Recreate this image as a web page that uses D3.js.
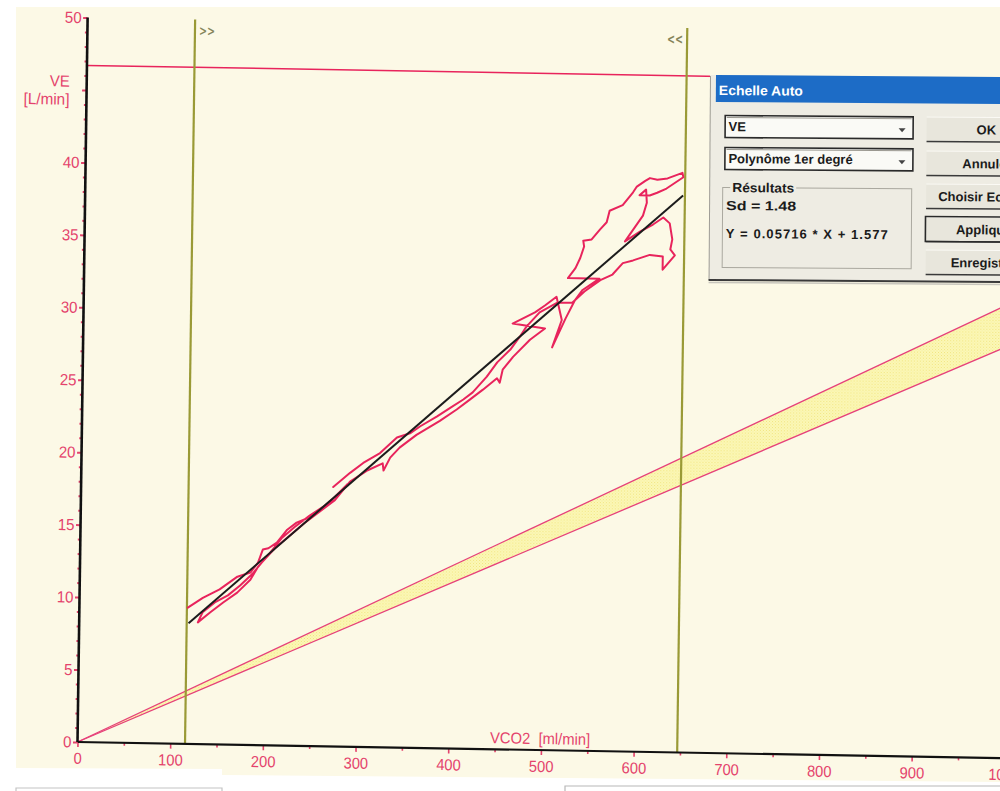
<!DOCTYPE html>
<html>
<head>
<meta charset="utf-8">
<script src="https://cdn.jsdelivr.net/npm/d3@7"></script>
<style>
  html, body { margin: 0; padding: 0; background: #ffffff; }
  svg { display: block; }
</style>
</head>
<body>
<svg id="chart" width="1000" height="791"></svg>
<script>
// ---------------------------------------------------------------
// VE / VCO2 slope: ventilation against CO2 output during exercise
// ---------------------------------------------------------------

// Axis ticks
const xTickValues = d3.range(0, 1001, 50);            // minor every 50, labelled every 100
const xTickLabels = [0, 100, 200, 300, 400, 500, 600, 700, 800, 900, 1000];
const yTickValues = d3.range(0, 51, 1);               // minor every 1, major every 5
const yTickLabels = [0, 5, 10, 15, 20, 25, 30, 35, 40, 50];   // 45 is where the axis title sits

// Analysis cursors (VCO2, ml/min) and the VE ceiling line (L/min)
const cursorVCO2 = [116, 647];
const cursorMarks = [">>", "<<"];
const veCeiling = [46.7];

// Normal VE/VCO2 band: lower and upper slopes through the origin
const bandSlopes = [0.0285, 0.0314];
const bandExtent = [0, 1010];

// Linear fit shown in the dialog
const fitSlope = 0.05716;
const fitIntercept = 1.577;
const fitSd = 1.48;
const fitExtent = [118, 645];

// Breath-by-breath trace (VCO2 ml/min, VE L/min)
const traceVCO2 = [
  117, 133, 151, 170, 184, 192, 197, 203, 212, 223, 233, 244, 258, 272, 287,
  279, 263, 247, 231, 217, 205, 192, 184, 170, 155, 141, 128,
  133, 146, 160, 173, 186, 196, 210, 226, 242, 258, 274, 290, 309, 325, 326, 333, 343,
  361, 386, 404, 418, 432, 447, 450, 453, 464, 482,
  498, 463, 487, 498, 510, 516, 506, 520, 530, 538, 556, 522, 530, 535, 539, 538,
  547, 556, 563, 566, 580, 591, 595, 604, 609, 617, 628, 644, 645, 627, 617, 609, 598, 605, 606, 602, 583, 599,
  613, 624, 631, 634, 632, 637, 624, 624, 610, 592, 581, 570, 557, 540, 527, 511, 492,
  478, 471, 461, 447, 436, 421, 411, 397, 383, 365, 354, 340, 322, 304, 290, 272
];
const traceVE = [
  9.4, 10.1, 10.7, 11.6, 11.9, 12.6, 13.5, 13.6, 14.0, 14.9, 15.4, 15.7, 16.3, 17.1, 18.1,
  17.5, 16.6, 15.9, 15.1, 14.3, 13.3, 12.3, 11.4, 10.5, 9.8, 9.1, 8.4,
  9.1, 9.8, 10.3, 11.0, 11.8, 12.6, 13.6, 14.5, 15.4, 16.2, 17.0, 18.3, 19.1, 19.6, 19.1, 20.0, 20.7,
  21.6, 22.6, 23.4, 24.1, 24.8, 25.6, 25.3, 26.2, 27.1, 28.3,
  29.1, 29.4, 30.2, 30.7, 31.3, 29.7, 27.8, 29.8, 31.1, 31.8, 32.6, 32.6, 33.3, 34.0, 34.8, 35.2,
  35.3, 36.0, 36.5, 37.3, 37.7, 38.6, 39.0, 39.4, 39.6, 39.5, 39.6, 40.0, 39.7, 38.9, 38.6, 38.4, 38.4, 38.8, 37.9, 37.0, 35.2, 35.9,
  36.4, 36.9, 36.5, 35.4, 34.7, 34.3, 33.3, 34.2, 34.3, 33.9, 33.7, 32.9, 32.5, 31.7, 30.9, 30.9, 30.2,
  29.2, 28.5, 27.6, 26.7, 25.7, 24.6, 24.1, 23.5, 22.9, 22.2, 21.7, 21.4, 20.3, 19.6, 18.9, 17.9
];

// Dialog content
const dialogTitle = "Echelle Auto";
const dialogCombos = ["VE", "Polynôme 1er degré"];
const dialogButtons = ["OK", "Annuler", "Choisir Echelle", "Appliquer", "Enregistrer"];

// ---------------------------------------------------------------
const RED = "#e8245c";
const LABEL_RED = "#e4436c";
const OLIVE = "#9a9a36";
const PAPER = "#fcf9e6";

const svg = d3.select("#chart");

// paper sheet
svg.append("rect").attr("width", 1000).attr("height", 791).attr("fill", "#ffffff");
svg.append("polygon")
  .attr("points", "16,7 1000,7 1000,782 565,778 222,775 222,769 16,768")
  .attr("fill", PAPER);
svg.append("path").attr("d", "M16,791 V788 H222 V791")
  .attr("fill", "none").attr("stroke", "#c4c4c4").attr("stroke-width", 1.2);
svg.append("path").attr("d", "M565,791 V786 H1000")
  .attr("fill", "none").attr("stroke", "#b8b8b8").attr("stroke-width", 1.2);

// defs: dotted yellow fill for the normal band
const defs = svg.append("defs");
const pat = defs.append("pattern").attr("id", "bandFill")
  .attr("patternUnits", "userSpaceOnUse").attr("width", 3).attr("height", 3);
pat.append("rect").attr("width", 3).attr("height", 3).attr("fill", "#fcf8b8");
pat.append("rect").attr("width", 1).attr("height", 1).attr("fill", "#f0e47e");
pat.append("rect").attr("x", 1.5).attr("y", 1.5).attr("width", 1).attr("height", 1).attr("fill", "#f3ea92");

// plotting frame (slightly tilted, origin at the axes' corner)
const tiltX = 1.0 * Math.PI / 180;
const tiltY = 0.8 * Math.PI / 180;
const plot = svg.append("g")
  .attr("transform", `matrix(${Math.cos(tiltX)},${Math.sin(tiltX)},${-Math.sin(tiltY)},${Math.cos(tiltY)},77.5,742)`);

const x = d3.scaleLinear().domain([0, 1000]).range([0, 927]);
const y = d3.scaleLinear().domain([0, 50]).range([0, -724.5]);

// normal band
const bandArea = d3.area()
  .x(d => x(d))
  .y0(d => y(bandSlopes[0] * d))
  .y1(d => y(bandSlopes[1] * d));
plot.append("path").datum(bandExtent)
  .attr("d", bandArea).attr("fill", "url(#bandFill)");
bandSlopes.forEach(s => {
  plot.append("path").datum(bandExtent)
    .attr("d", d3.line().x(d => x(d)).y(d => y(s * d)))
    .attr("fill", "none").attr("stroke", "#e6407a").attr("stroke-width", 1.3);
});

// VE ceiling line
plot.selectAll(".ceiling").data(veCeiling).join("line")
  .attr("class", "ceiling")
  .attr("x1", x(0)).attr("x2", x(1010))
  .attr("y1", d => y(d)).attr("y2", d => y(d))
  .attr("stroke", RED).attr("stroke-width", 1.5);

// cursors
plot.selectAll(".cursor").data(cursorVCO2).join("line")
  .attr("class", "cursor")
  .attr("x1", d => x(d)).attr("x2", d => x(d))
  .attr("y1", y(0)).attr("y2", y(50))
  .attr("stroke", OLIVE).attr("stroke-width", 2.2);
plot.selectAll(".cursorMark").data(cursorVCO2).join("text")
  .attr("class", "cursorMark")
  .attr("x", (d, i) => i === 0 ? x(d) + 4 : x(d) - 4)
  .attr("y", y(50) + 16)
  .attr("text-anchor", (d, i) => i === 0 ? "start" : "end")
  .attr("font-family", "DejaVu Sans, sans-serif")
  .attr("font-size", 14).attr("font-weight", "bold").attr("fill", "#85855a")
  .attr("textLength", 16).attr("lengthAdjust", "spacingAndGlyphs")
  .text((d, i) => cursorMarks[i]);

// trace
const trace = traceVCO2.map((v, i) => [v, traceVE[i]]);
plot.append("path").datum(trace)
  .attr("d", d3.line().x(d => x(d[0])).y(d => y(d[1])))
  .attr("fill", "none").attr("stroke", RED).attr("stroke-width", 2)
  .attr("stroke-linejoin", "round").attr("stroke-linecap", "round");

// fitted line
plot.append("path").datum(fitExtent)
  .attr("d", d3.line().x(d => x(d)).y(d => y(fitSlope * d + fitIntercept)))
  .attr("fill", "none").attr("stroke", "#1c1c1c").attr("stroke-width", 2);

// x axis
const xAxis = plot.append("g").call(
  d3.axisBottom(x).tickValues(xTickValues)
    .tickFormat(d => xTickLabels.includes(d) ? d : "")
    .tickSizeOuter(0));
xAxis.select(".domain").remove();
xAxis.selectAll(".tick line")
  .attr("y2", d => d % 100 === 0 ? 5 : 3)
  .attr("stroke", LABEL_RED).attr("stroke-width", 1.6);
xAxis.selectAll(".tick text")
  .attr("y", 10.5)
  .attr("fill", LABEL_RED)
  .attr("font-family", "Liberation Sans, Arial, sans-serif")
  .attr("font-size", 16)
  .attr("textLength", d => String(d).length * 8.2)
  .attr("lengthAdjust", "spacingAndGlyphs");
plot.append("line")
  .attr("x1", x(0)).attr("x2", x(1010)).attr("y1", 0).attr("y2", 0)
  .attr("stroke", "#111").attr("stroke-width", 2.2);

// y axis
const yAxis = plot.append("g").call(
  d3.axisLeft(y).tickValues(yTickValues)
    .tickFormat(d => yTickLabels.includes(d) ? d : "")
    .tickSizeOuter(0));
yAxis.select(".domain").remove();
yAxis.selectAll(".tick line")
  .attr("x2", d => d % 5 === 0 ? -4.5 : -2.5)
  .attr("stroke", LABEL_RED).attr("stroke-width", 2);
yAxis.selectAll(".tick text")
  .attr("x", -6)
  .attr("fill", LABEL_RED)
  .attr("font-family", "Liberation Sans, Arial, sans-serif")
  .attr("font-size", 16)
  .attr("textLength", d => String(d).length * 8.4)
  .attr("lengthAdjust", "spacingAndGlyphs");
plot.append("line")
  .attr("x1", 0).attr("x2", 0).attr("y1", y(0)).attr("y2", y(50))
  .attr("stroke", "#111").attr("stroke-width", 2.6);

// axis titles
const titleFont = "Liberation Sans, Arial, sans-serif";
plot.append("text").attr("x", -17).attr("y", y(45) - 3)
  .attr("text-anchor", "end").attr("font-family", titleFont).attr("font-size", 16)
  .attr("fill", LABEL_RED).attr("textLength", 20).attr("lengthAdjust", "spacingAndGlyphs")
  .text("VE");
plot.append("text").attr("x", -17).attr("y", y(45) + 15)
  .attr("text-anchor", "end").attr("font-family", titleFont).attr("font-size", 16)
  .attr("fill", LABEL_RED).attr("textLength", 46).attr("lengthAdjust", "spacingAndGlyphs")
  .text("[L/min]");
plot.append("text").attr("x", x(445)).attr("y", -6)
  .attr("font-family", titleFont).attr("font-size", 16)
  .attr("fill", LABEL_RED).attr("textLength", 100).attr("lengthAdjust", "spacingAndGlyphs")
  .attr("xml:space", "preserve")
  .text("VCO2  [ml/min]");

// ---------------------------------------------------------------
// "Echelle Auto" dialog
// ---------------------------------------------------------------
const dlg = svg.append("g").attr("transform", "rotate(0.4,716,75)");
const UI = "Liberation Sans, Arial, sans-serif";
const FACE = "#eeece3";

dlg.append("rect").attr("x", 710).attr("y", 75).attr("width", 300).attr("height", 205).attr("fill", FACE);
dlg.append("line").attr("x1", 710.5).attr("x2", 710.5).attr("y1", 76).attr("y2", 280)
  .attr("stroke", "#a09e96").attr("stroke-width", 1);
dlg.append("line").attr("x1", 710).attr("x2", 1010).attr("y1", 280).attr("y2", 280)
  .attr("stroke", "#3a3a3a").attr("stroke-width", 2);
dlg.append("line").attr("x1", 710).attr("x2", 1010).attr("y1", 282.5).attr("y2", 282.5)
  .attr("stroke", "#c8c6bd").attr("stroke-width", 1.5);

dlg.append("rect").attr("x", 716).attr("y", 75).attr("width", 294).attr("height", 27).attr("fill", "#1d6cc6");
dlg.append("text").attr("x", 719).attr("y", 95)
  .attr("font-family", UI).attr("font-weight", "bold").attr("font-size", 13.5)
  .attr("fill", "#ffffff").attr("textLength", 84).attr("lengthAdjust", "spacingAndGlyphs")
  .text(dialogTitle);

// combo boxes
dialogCombos.forEach((label, i) => {
  const top = 115 + i * 32;
  dlg.append("rect").attr("x", 725.5).attr("y", top + 0.5).attr("width", 188).attr("height", 22)
    .attr("fill", "#fafaf6").attr("stroke", "#2a2a2a").attr("stroke-width", 1.6);
  dlg.append("line").attr("x1", 727).attr("x2", 912).attr("y1", top + 2.5).attr("y2", top + 2.5)
    .attr("stroke", "#9a9890").attr("stroke-width", 1);
  dlg.append("text").attr("x", 729).attr("y", top + 16)
    .attr("font-family", UI).attr("font-weight", "bold").attr("font-size", 13)
    .attr("fill", "#1b1b1b").text(label);
  dlg.append("polygon")
    .attr("points", `899,${top + 12} 906,${top + 12} 902.5,${top + 16}`)
    .attr("fill", "#444");
});

// results group box
dlg.append("rect").attr("x", 723.5).attr("y", 187.5).attr("width", 189).attr("height", 80)
  .attr("fill", "none").attr("stroke", "#aaa89f").attr("stroke-width", 1);
dlg.append("rect").attr("x", 731).attr("y", 181).attr("width", 66).attr("height", 13).attr("fill", FACE);
dlg.append("text").attr("x", 733).attr("y", 192)
  .attr("font-family", UI).attr("font-weight", "bold").attr("font-size", 13)
  .attr("fill", "#1b1b1b").attr("textLength", 62).attr("lengthAdjust", "spacingAndGlyphs")
  .text("Résultats");
dlg.append("text").attr("x", 727).attr("y", 210)
  .attr("font-family", UI).attr("font-weight", "bold").attr("font-size", 13)
  .attr("fill", "#1b1b1b").attr("textLength", 70).attr("lengthAdjust", "spacingAndGlyphs")
  .text(`Sd = ${fitSd.toFixed(2)}`);
dlg.append("text").attr("x", 727).attr("y", 238)
  .attr("font-family", UI).attr("font-weight", "bold").attr("font-size", 13)
  .attr("fill", "#1b1b1b").attr("textLength", 162).attr("lengthAdjust", "spacing")
  .text(`Y = ${fitSlope} * X + ${fitIntercept}`);

// buttons
const btnTop = [115, 149, 182, 215, 248];
const btnTextX = [977, 963, 939, 957, 952];
dialogButtons.forEach((label, i) => {
  const top = btnTop[i];
  const g = dlg.append("g");
  g.append("rect").attr("x", 927).attr("y", top).attr("width", 90).attr("height", 25)
    .attr("fill", "#e8e6dc");
  g.append("line").attr("x1", 927).attr("x2", 1017).attr("y1", top + 0.5).attr("y2", top + 0.5)
    .attr("stroke", "#fbfaf5").attr("stroke-width", 1);
  g.append("line").attr("x1", 927).attr("x2", 1017).attr("y1", top + 25).attr("y2", top + 25)
    .attr("stroke", "#3a3a3a").attr("stroke-width", 1.6);
  if (label === "Appliquer") {
    g.append("rect").attr("x", 926.5).attr("y", top).attr("width", 90).attr("height", 25)
      .attr("fill", "none").attr("stroke", "#2a2a2a").attr("stroke-width", 1.6);
  }
  g.append("text").attr("x", btnTextX[i]).attr("y", top + 17.5)
    .attr("font-family", UI).attr("font-weight", "bold").attr("font-size", 13)
    .attr("fill", "#1b1b1b").text(label);
});
</script>
</body>
</html>
